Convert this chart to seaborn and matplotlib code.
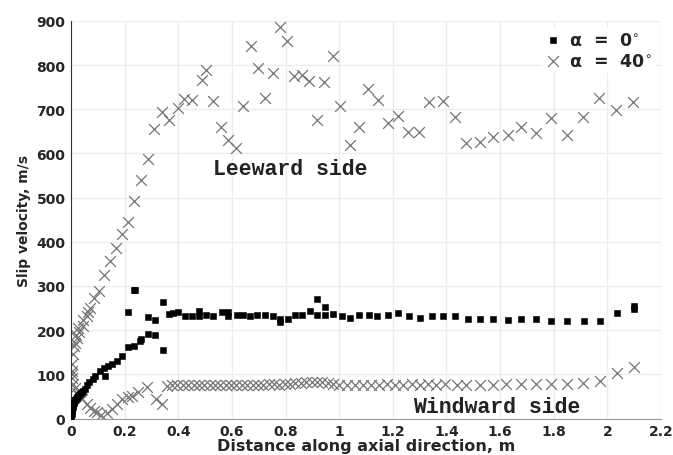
import matplotlib
matplotlib.use("Agg")
import matplotlib.pyplot as plt
import numpy as np
import pandas as pd
import seaborn as sns

# alpha = 0 deg : slip velocity along the axial direction
alpha0_x = [0.000, 0.002, 0.003, 0.004, 0.005, 0.006, 0.008, 0.010, 0.012, 0.014,
            0.016, 0.018, 0.021, 0.024, 0.027, 0.030, 0.034, 0.038, 0.042, 0.046,
            0.052, 0.060, 0.068, 0.083, 0.089, 0.108, 0.123, 0.127, 0.139, 0.152,
            0.170, 0.189, 0.211, 0.214, 0.235, 0.236, 0.240, 0.257, 0.261, 0.288,
            0.288, 0.313, 0.313, 0.342, 0.342, 0.367, 0.381, 0.398, 0.425, 0.450,
            0.478, 0.478, 0.503, 0.531, 0.562, 0.587, 0.587, 0.618, 0.640, 0.667,
            0.695, 0.723, 0.754, 0.779, 0.779, 0.810, 0.835, 0.860, 0.891, 0.916,
            0.916, 0.947, 0.947, 0.978, 1.009, 1.040, 1.075, 1.112, 1.143, 1.181,
            1.220, 1.261, 1.301, 1.345, 1.388, 1.432, 1.481, 1.525, 1.575, 1.628,
            1.680, 1.736, 1.792, 1.850, 1.913, 1.972, 2.035, 2.099, 2.099]
alpha0_y = [2, 10, 16, 20, 24, 27, 31, 35, 38, 41,
            43, 45, 47, 49, 51, 53, 55, 57, 60, 62,
            67, 76, 82, 89, 97, 108, 115, 97, 119, 123,
            130, 141, 162, 240, 164, 292, 290, 175, 181, 192,
            229, 188, 223, 154, 264, 237, 238, 242, 233, 231,
            243, 233, 234, 233, 242, 240, 233, 234, 234, 231,
            234, 234, 231, 226, 218, 226, 234, 234, 243, 270,
            234, 253, 234, 236, 231, 228, 234, 234, 231, 234,
            238, 231, 228, 232, 232, 232, 226, 226, 226, 222,
            226, 225, 220, 220, 220, 220, 238, 255, 248]

# alpha = 40 deg, leeward side
leeward_x = [0.002, 0.005, 0.009, 0.011, 0.015, 0.019, 0.024, 0.027, 0.031, 0.044,
             0.046, 0.058, 0.065, 0.071, 0.087, 0.106, 0.124, 0.145, 0.167, 0.189,
             0.211, 0.236, 0.261, 0.286, 0.311, 0.338, 0.367, 0.398, 0.423, 0.452,
             0.487, 0.503, 0.531, 0.558, 0.587, 0.614, 0.640, 0.670, 0.696, 0.723,
             0.752, 0.779, 0.807, 0.833, 0.860, 0.889, 0.916, 0.945, 0.976, 1.005,
             1.040, 1.074, 1.109, 1.146, 1.181, 1.218, 1.258, 1.298, 1.336, 1.386,
             1.432, 1.475, 1.525, 1.575, 1.628, 1.680, 1.734, 1.792, 1.848, 1.910,
             1.970, 2.032, 2.097]
leeward_y = [100, 123, 145, 164, 170, 190, 182, 205, 195, 210,
             223, 233, 242, 250, 272, 289, 325, 357, 387, 418,
             445, 493, 540, 587, 656, 694, 676, 703, 724, 722,
             767, 789, 718, 659, 630, 613, 707, 843, 793, 726,
             783, 886, 855, 776, 777, 763, 676, 761, 821, 707,
             618, 659, 746, 721, 670, 685, 649, 649, 716, 718,
             683, 624, 627, 638, 642, 659, 646, 681, 642, 683,
             726, 698, 717]

# alpha = 40 deg, windward side
windward_x = [0.003, 0.005, 0.009, 0.014, 0.021, 0.030, 0.040, 0.058, 0.071, 0.085,
              0.096, 0.112, 0.133, 0.152, 0.170, 0.189, 0.211, 0.226, 0.251, 0.284,
              0.316, 0.338, 0.357, 0.377, 0.397, 0.417, 0.437, 0.457, 0.477, 0.497,
              0.517, 0.537, 0.557, 0.577, 0.597, 0.617, 0.637, 0.657, 0.677, 0.697,
              0.717, 0.737, 0.757, 0.777, 0.797, 0.817, 0.837, 0.857, 0.877, 0.897,
              0.917, 0.937, 0.957, 0.977, 1.000, 1.030, 1.060, 1.090, 1.120, 1.150,
              1.180, 1.210, 1.240, 1.270, 1.300, 1.330, 1.360, 1.394, 1.438,
              1.475, 1.525, 1.575, 1.624, 1.680, 1.736, 1.792, 1.848, 1.910, 1.972,
              2.035, 2.100]
windward_y = [108, 92, 78, 68, 57, 50, 45, 33, 23, 18,
              15, 7, 13, 22, 32, 45, 48, 50, 61, 72,
              45, 33, 74, 75, 75, 76, 75, 76, 75, 76,
              77, 76, 77, 76, 77, 76, 77, 77, 76, 77,
              77, 78, 78, 77, 78, 79, 80, 81, 82, 82,
              83, 82, 81, 79, 77, 76, 77, 76, 77, 77,
              78, 77, 77, 78, 77, 78, 77, 78, 77,
              77, 77, 77, 78, 78, 78, 78, 79, 80, 86,
              102, 116]

label0 = "α  =  0$^{\\circ}$"
label40 = "α  =  40$^{\\circ}$"

df0 = pd.DataFrame({"x": alpha0_x, "y": alpha0_y})
df40 = pd.DataFrame({"x": leeward_x + windward_x, "y": leeward_y + windward_y})

sns.set_style("whitegrid", {"grid.color": "#ececec", "axes.edgecolor": "#333333"})
plt.rcParams["font.family"] = ["DejaVu Sans"]
plt.rcParams["mathtext.fontset"] = "dejavusans"

fig, ax = plt.subplots(figsize=(6.73, 4.56), dpi=100)
fig.subplots_adjust(left=0.1055, right=0.982, top=0.952, bottom=0.08)

sns.scatterplot(data=df0, x="x", y="y", marker="s", s=24, color="black",
                edgecolor="black", linewidth=0.4, ax=ax, label=label0, zorder=3)
sns.scatterplot(data=df40, x="x", y="y", marker="x", s=60, color="#747474",
                linewidth=0.9, ax=ax, label=label40, zorder=2)

ax.set_xlim(0, 2.2)
ax.set_ylim(0, 900)
ax.set_xticks(np.arange(0, 2.21, 0.2))
ax.set_yticks(np.arange(0, 901, 100))
ax.set_xticklabels([f"{v:g}" for v in np.round(np.arange(0, 2.21, 0.2), 1)])
ax.tick_params(axis="both", labelsize=10, length=2.5, color="#888888", pad=1.5)
for lab in ax.get_xticklabels() + ax.get_yticklabels():
    lab.set_fontweight("bold")

for side in ("top", "right"):
    ax.spines[side].set_visible(False)
ax.spines["left"].set_color("#333333")
ax.spines["bottom"].set_color("#999999")
ax.grid(True, color="#ececec", linewidth=1.0)

ax.set_xlabel("Distance along axial direction, m", fontsize=11.5, fontweight="bold",
              labelpad=0)
ax.set_ylabel("Slip velocity, m/s", fontsize=10, fontweight="bold", labelpad=4)

ax.text(0.53, 565, "Leeward side", family="Liberation Mono", fontsize=15.5,
        fontweight="bold", color="#222222", va="center", ha="left")
ax.text(1.275, 27, "Windward side", family="Liberation Mono", fontsize=15.5,
        fontweight="bold", color="#222222", va="center", ha="left")

leg = ax.legend(loc="upper right", bbox_to_anchor=(1.005, 1.005), frameon=True,
                fancybox=False, framealpha=1.0, edgecolor="white",
                prop={"weight": "bold", "size": 12.5}, handletextpad=0.4,
                handlelength=1.0, borderpad=0.2, labelspacing=0.15)
leg.get_frame().set_linewidth(0)

fig.savefig("out.png", dpi=100)
